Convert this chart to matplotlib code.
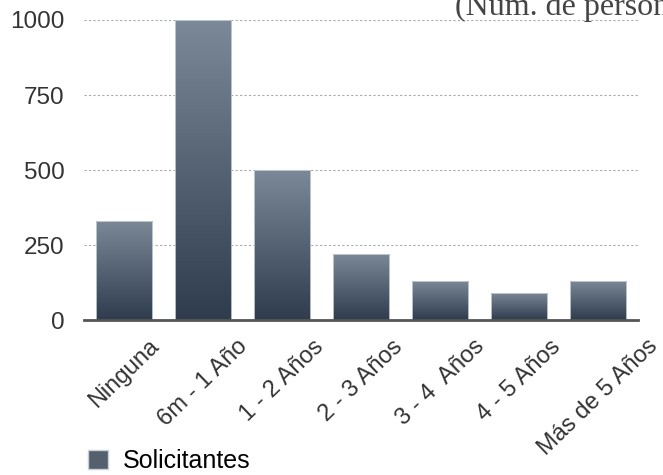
import numpy as np
import matplotlib
matplotlib.use('Agg')
from matplotlib import pyplot as plt
from matplotlib.colors import LinearSegmentedColormap
from matplotlib.patches import Patch

# datos
categorias = ['Ninguna', '6m - 1 Año', '1 - 2 Años', '2 - 3 Años',
              '3 - 4  Años', '4 - 5 Años', 'Más de 5 Años']
solicitantes = [330, 1000, 500, 220, 130, 90, 130]
yticks = [0, 250, 500, 750, 1000]

plt.rcParams['font.family'] = ['Liberation Sans', 'DejaVu Sans']

fig = plt.figure(figsize=(6.63, 4.75), dpi=100)
ax = fig.add_axes([0.127, 0.326, 0.835, 0.632])

x = np.arange(len(categorias))
bars = ax.bar(x, solicitantes, width=0.71, color='none',
              edgecolor='#c9d0d8', linewidth=0.6, zorder=3)

# degradado vertical dentro de cada barra
cmap = LinearSegmentedColormap.from_list('gris', ['#2f3c4e', '#7b8998'])
grad = np.linspace(0, 1, 256).reshape(-1, 1)
for b in bars:
    im = ax.imshow(grad, cmap=cmap, aspect='auto', origin='lower',
                   extent=[b.get_x(), b.get_x() + b.get_width(), 0, b.get_height()],
                   zorder=2)
    im.set_clip_path(b)

ax.set_xlim(-0.5, 6.5)
ax.set_ylim(0, 1000)
ax.set_yticks(yticks)
ax.set_yticklabels([str(v) for v in yticks], fontsize=17.5, color='#333333')
ax.set_xticks(x)
ax.set_xticklabels(categorias, rotation=44, ha='center', va='top',
                   fontsize=17, color='#333333')
ax.tick_params(axis='y', length=0, pad=14)
ax.tick_params(axis='x', length=0, pad=11)

ax.grid(axis='y', linestyle=(0, (2, 2)), color='#aaaaaa', linewidth=0.8, zorder=1)
for s in ['top', 'right', 'left']:
    ax.spines[s].set_visible(False)
ax.spines['bottom'].set_color('#555555')
ax.spines['bottom'].set_linewidth(2)
ax.spines['bottom'].set_zorder(4)

fig.text(0.686, 0.968, '(Núm. de personas)', family='Liberation Serif',
         fontsize=23, color='#444444', va='baseline', ha='left')

fig.legend(handles=[Patch(facecolor='#55606e', edgecolor='#c9d0d8')],
           labels=['Solicitantes'], loc='lower left', bbox_to_anchor=(0.133, 0.004),
           frameon=False, fontsize=18, handlelength=0.8, handleheight=0.8,
           handletextpad=0.6, borderpad=0, borderaxespad=0)

plt.savefig('out.png', dpi=100)
